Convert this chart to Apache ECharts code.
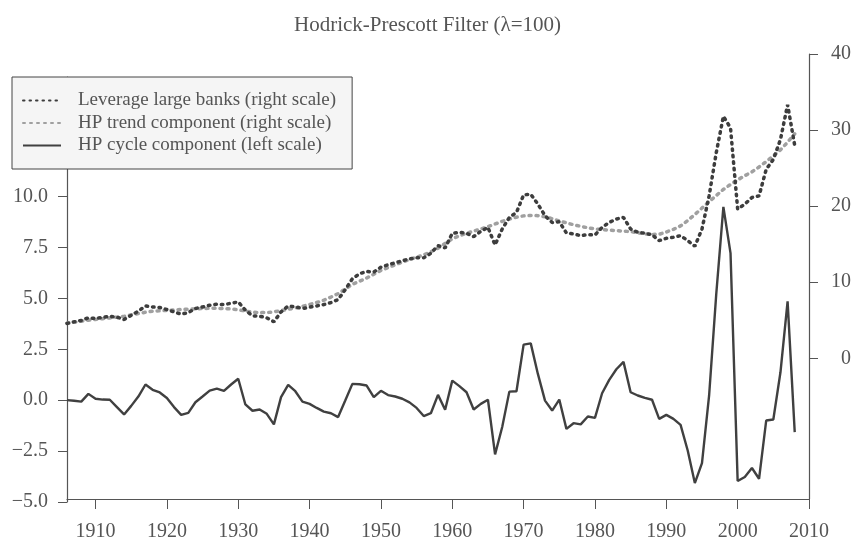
<!DOCTYPE html>
<html>
<head>
<meta charset="utf-8">
<script src="https://cdn.jsdelivr.net/npm/echarts@6/dist/echarts.min.js"></script>
<style>
  html, body { margin: 0; padding: 0; background: #fff; }
  #chart { width: 855px; height: 542px; }
</style>
</head>
<body>
<div id="chart"></div>
<script>
// 数据：1906-2008 年
var firstYear = 1906;

// 杠杆率（右轴）
var leverage = [
  4.58, 4.79, 4.97, 5.32, 5.23, 5.36, 5.53, 5.40, 5.10, 5.66,
  6.19, 6.88, 6.75, 6.67, 6.41, 6.10, 5.80, 6.01, 6.54, 6.75,
  6.97, 7.10, 7.06, 7.23, 7.41, 6.32, 5.58, 5.53, 5.32, 4.79,
  6.10, 6.88, 6.75, 6.54, 6.71, 6.88, 7.06, 7.32, 7.71, 9.02,
  10.46, 11.11, 11.42, 11.33, 11.98, 12.29, 12.55, 12.81, 13.07, 13.20,
  13.20, 13.81, 14.81, 14.51, 16.43, 16.56, 16.43, 15.99, 16.69, 17.21,
  14.90, 16.99, 18.52, 19.17, 21.48, 21.57, 20.26, 18.74, 17.86, 17.95,
  16.47, 16.34, 16.12, 16.25, 16.21, 17.21, 17.86, 18.30, 18.52, 16.99,
  16.56, 16.43, 16.25, 15.47, 15.77, 15.90, 16.12, 15.47, 14.73, 16.99,
  21.35, 27.02, 31.81, 30.28, 19.61, 20.26, 21.13, 21.35, 24.84, 26.14,
  28.76, 33.33, 27.97
];

// HP 趋势（右轴）
var trend = [
  4.60, 4.75, 4.88, 5.00, 5.10, 5.20, 5.30, 5.40, 5.50, 5.70,
  5.88, 6.05, 6.19, 6.24, 6.28, 6.35, 6.41, 6.45, 6.49, 6.54,
  6.57, 6.57, 6.54, 6.48, 6.38, 6.20, 6.05, 6.00, 6.01, 6.10,
  6.27, 6.44, 6.62, 6.84, 7.06, 7.33, 7.63, 8.05, 8.50, 9.10,
  9.72, 10.13, 10.54, 11.05, 11.55, 11.92, 12.29, 12.63, 12.98, 13.30,
  13.60, 14.00, 14.47, 15.10, 15.70, 16.10, 16.43, 16.72, 17.00, 17.30,
  17.65, 18.00, 18.30, 18.55, 18.72, 18.78, 18.75, 18.60, 18.35, 18.05,
  17.80, 17.55, 17.35, 17.15, 17.00, 16.92, 16.85, 16.78, 16.72, 16.65,
  16.50, 16.35, 16.28, 16.30, 16.60, 16.95, 17.40, 18.10, 18.90, 19.75,
  20.60, 21.40, 22.20, 22.85, 23.45, 24.00, 24.50, 25.15, 25.85, 26.60,
  27.40, 28.40, 29.50
];

// HP 周期（左轴）
var cycle = [
  0.00, -0.03, -0.07, 0.31, 0.07, 0.03, 0.02, -0.34, -0.70, -0.28,
  0.18, 0.77, 0.51, 0.38, 0.11, -0.34, -0.72, -0.62, -0.10, 0.18,
  0.47, 0.57, 0.46, 0.77, 1.05, -0.21, -0.52, -0.46, -0.67, -1.19,
  0.15, 0.75, 0.44, -0.07, -0.18, -0.38, -0.56, -0.64, -0.83, -0.02,
  0.80, 0.78, 0.72, 0.15, 0.46, 0.25, 0.18, 0.07, -0.11, -0.38,
  -0.78, -0.64, 0.26, -0.47, 0.96, 0.69, 0.39, -0.46, -0.18, 0.02,
  -2.66, -1.32, 0.42, 0.44, 2.73, 2.79, 1.29, -0.02, -0.51, 0.03,
  -1.41, -1.13, -1.19, -0.80, -0.87, 0.34, 1.00, 1.52, 1.88, 0.39,
  0.23, 0.11, 0.02, -0.92, -0.72, -0.92, -1.21, -2.47, -4.07, -3.09,
  0.23, 5.21, 9.49, 7.22, -3.97, -3.77, -3.33, -3.86, -1.00, -0.95,
  1.37, 4.85, -1.57
];

// 刻度
var xTicks = [1910, 1920, 1930, 1940, 1950, 1960, 1970, 1980, 1990, 2000, 2010];
var leftTicks = [-5, -2.5, 0, 2.5, 5, 7.5, 10];
var rightTicks = [0, 10, 20, 30, 40];

function pairs(arr) {
  return arr.map(function (v, i) { return [firstYear + i, v]; });
}

var font = 'Liberation Serif';
var textColor = '#555';
var axisColor = '#555';

var myChart = echarts.init(document.getElementById('chart'));
myChart.setOption({
  animation: false,
  title: {
    text: 'Hodrick-Prescott Filter (λ=100)',
    left: 'center',
    top: 10,
    textStyle: { fontFamily: font, fontSize: 21, fontWeight: 'normal', color: textColor }
  },
  legend: {
    orient: 'vertical',
    left: 12,
    top: 77,
    padding: [14, 16, 14, 10],
    itemWidth: 38,
    itemHeight: 18,
    itemGap: 3.5,
    backgroundColor: '#f5f5f5',
    borderColor: '#444',
    borderWidth: 1,
    borderRadius: 0,
    itemStyle: { opacity: 0 },
    textStyle: { fontFamily: font, fontSize: 19, color: textColor, padding: [0, 0, 0, 12] },
    data: ['Leverage large banks (right scale)', 'HP trend component (right scale)', 'HP cycle component (left scale)']
  },
  // 右轴网格到顶部；左轴网格止于图例上沿
  grid: [
    { left: 67, right: 46, top: 54, bottom: 40 },
    { left: 67, right: 46, top: 77, bottom: 40 }
  ],
  xAxis: [
    {
      type: 'value',
      gridIndex: 0,
      min: 1906,
      max: 2010,
      splitLine: { show: false },
      axisLine: { onZero: false, lineStyle: { color: axisColor, width: 1.2 } },
      axisTick: { length: 10, customValues: xTicks, lineStyle: { color: axisColor } },
      axisLabel: {
        customValues: xTicks, margin: 23,
        fontFamily: font, fontSize: 20, color: textColor,
        formatter: function (v) { return String(v); }
      }
    },
    {
      type: 'value',
      gridIndex: 1,
      min: 1906,
      max: 2010,
      show: false,
      splitLine: { show: false }
    }
  ],
  yAxis: [
    {
      type: 'value',
      gridIndex: 1,
      position: 'left',
      min: -5,
      max: 15.87,
      splitLine: { show: false },
      axisLine: { show: true, onZero: false, lineStyle: { color: axisColor, width: 1.2 } },
      axisTick: { show: true, length: 9, customValues: leftTicks, lineStyle: { color: axisColor } },
      axisLabel: {
        customValues: leftTicks, margin: 19,
        fontFamily: font, fontSize: 20, color: textColor,
        formatter: function (v) { return v.toFixed(1).replace('-', '\u2212'); }
      }
    },
    {
      type: 'value',
      gridIndex: 0,
      position: 'right',
      min: -18.5,
      max: 40,
      splitLine: { show: false },
      axisLine: { show: true, onZero: false, lineStyle: { color: axisColor, width: 1.2 } },
      axisTick: { show: true, length: 9, customValues: rightTicks, lineStyle: { color: axisColor } },
      axisLabel: {
        customValues: rightTicks, margin: 42, align: 'right',
        fontFamily: font, fontSize: 20, color: textColor
      }
    }
  ],
  series: [
    {
      name: 'Leverage large banks (right scale)',
      type: 'line',
      xAxisIndex: 0,
      yAxisIndex: 1,
      symbol: 'none',
      z: 3,
      data: pairs(leverage),
      itemStyle: { color: '#3d3d3d' },
      lineStyle: { color: '#3d3d3d', width: 3.5, type: [1.5, 5], cap: 'round' }
    },
    {
      name: 'HP trend component (right scale)',
      type: 'line',
      xAxisIndex: 0,
      yAxisIndex: 1,
      symbol: 'none',
      z: 2,
      data: pairs(trend),
      itemStyle: { color: '#a0a0a0' },
      lineStyle: { color: '#a0a0a0', width: 3.5, type: [2, 5], cap: 'round' }
    },
    {
      name: 'HP cycle component (left scale)',
      type: 'line',
      xAxisIndex: 1,
      yAxisIndex: 0,
      symbol: 'none',
      z: 2,
      data: pairs(cycle),
      itemStyle: { color: '#404040' },
      lineStyle: { color: '#404040', width: 2.4 }
    }
  ]
});
</script>
</body>
</html>
